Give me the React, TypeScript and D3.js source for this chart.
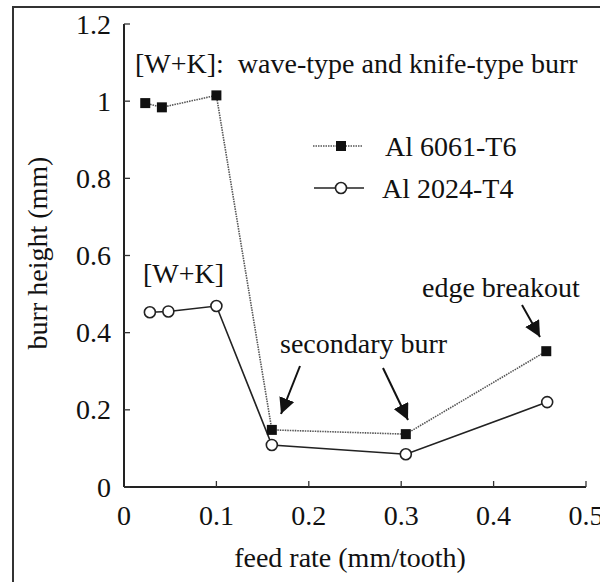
import * as d3 from 'd3'

// feed rate (mm/tooth) and burr height (mm)
const feed6061 = [0.023, 0.041, 0.1, 0.16, 0.305, 0.457]
const height6061 = [0.995, 0.984, 1.015, 0.148, 0.137, 0.352]
const feed2024 = [0.028, 0.048, 0.1, 0.16, 0.305, 0.458]
const height2024 = [0.453, 0.455, 0.469, 0.109, 0.085, 0.22]

const xTicks = [0, 0.1, 0.2, 0.3, 0.4, 0.5]
const yTicks = [0, 0.2, 0.4, 0.6, 0.8, 1, 1.2]
const seriesNames = ['Al 6061-T6', 'Al 2024-T4']

const W = 600
const H = 582
const INK = '#111'
const txt = { fontFamily: "'Liberation Serif', serif", fontSize: 28 }

const x = d3.scaleLinear().domain([0, 0.5]).range([124, 586])
const y = d3.scaleLinear().domain([0, 1.2]).range([487, 24])
const fmt = (v: number) => d3.format('')(v)
const line = d3.line<[number, number]>().x(d => x(d[0])).y(d => y(d[1]))

const pts6061 = feed6061.map((f, i) => [f, height6061[i]] as [number, number])
const pts2024 = feed2024.map((f, i) => [f, height2024[i]] as [number, number])

const dotted = { stroke: '#555', strokeWidth: 1.6, strokeDasharray: '1.5,1', fill: 'none' }
const solid = { stroke: '#222', strokeWidth: 1.6, fill: 'none' }

// annotation arrows: [x1, y1, x2, y2]
const arrows = [
  [300, 366, 281, 414],
  [383, 368, 408, 420],
  [522, 305, 540, 337],
]

export default function App() {
  const legY = [146, 188]
  return (
    <div style={{ position: 'absolute', left: 0, top: 0 }}>
      <svg width={W} height={H} style={{ display: 'block', background: '#fff' }}>
        <defs>
          <marker id="arrow" viewBox="0 0 10 10" refX={10} refY={5} markerWidth={16} markerHeight={16}
            markerUnits="userSpaceOnUse" orient="auto">
            <path d="M0,0 L10,5 L0,10 Z" fill={INK} />
          </marker>
        </defs>

        {/* outer frame, cut by the right and bottom edge like the scan */}
        <rect x={13} y={7} width={640} height={640} fill="none" stroke="#333" strokeWidth={2} />

        {/* x axis */}
        <line x1={x(0)} x2={x(0.5)} y1={y(0)} y2={y(0)} stroke="#222" strokeWidth={2} />
        {xTicks.map(t => (
          <g key={'x' + t} transform={`translate(${x(t)},${y(0)})`}>
            {t > 0 && <line y2={-6} stroke="#333" strokeWidth={1.3} />}
            <text y={38} textAnchor="middle" fill={INK} style={txt}>{fmt(t)}</text>
          </g>
        ))}

        {/* y axis */}
        <line x1={x(0)} x2={x(0)} y1={y(0)} y2={y(1.2)} stroke="#222" strokeWidth={2} />
        {yTicks.map(t => (
          <g key={'y' + t} transform={`translate(${x(0)},${y(t)})`}>
            <line x2={6} stroke="#333" strokeWidth={1.3} />
            <text x={-13} dy="0.34em" textAnchor="end" fill={INK} style={txt}>{fmt(t)}</text>
          </g>
        ))}

        {/* series */}
        <path d={line(pts6061) ?? ''} {...dotted} />
        <path d={line(pts2024) ?? ''} {...solid} />
        {pts6061.map((d, i) => (
          <rect key={'s' + i} x={x(d[0]) - 5} y={y(d[1]) - 5} width={10} height={10} fill={INK} />
        ))}
        {pts2024.map((d, i) => (
          <circle key={'c' + i} cx={x(d[0])} cy={y(d[1])} r={5.5} fill="#fff" stroke="#222" strokeWidth={1.6} />
        ))}

        {/* legend */}
        <line x1={313} x2={362} y1={legY[0]} y2={legY[0]} {...dotted} />
        <rect x={336} y={legY[0] - 5} width={10} height={10} fill={INK} />
        <line x1={314} x2={364} y1={legY[1]} y2={legY[1]} {...solid} />
        <circle cx={341} cy={legY[1]} r={5.5} fill="#fff" stroke="#222" strokeWidth={1.6} />
        {seriesNames.map((n, i) => (
          <text key={n} x={i === 0 ? 385 : 382} y={legY[i] + 10} fill={INK} style={txt}>{n}</text>
        ))}

        {/* annotations */}
        <text x={135} y={73} fill={INK} style={{ ...txt, whiteSpace: 'pre' }}>{'[W+K]:  wave-type and knife-type burr'}</text>
        <text x={143} y={283} fill={INK} style={txt}>[W+K]</text>
        <text x={280} y={353} fill={INK} style={txt}>secondary burr</text>
        <text x={422} y={297} fill={INK} style={txt}>edge breakout</text>
        {arrows.map((a, i) => (
          <line key={'a' + i} x1={a[0]} y1={a[1]} x2={a[2]} y2={a[3]} stroke={INK} strokeWidth={2} markerEnd="url(#arrow)" />
        ))}

        {/* axis titles */}
        <text x={350} y={567} textAnchor="middle" fill={INK} style={txt}>feed rate (mm/tooth)</text>
        <text transform="translate(47,253) rotate(-90)" textAnchor="middle" fill={INK} style={txt}>burr height (mm)</text>
      </svg>
    </div>
  )
}
